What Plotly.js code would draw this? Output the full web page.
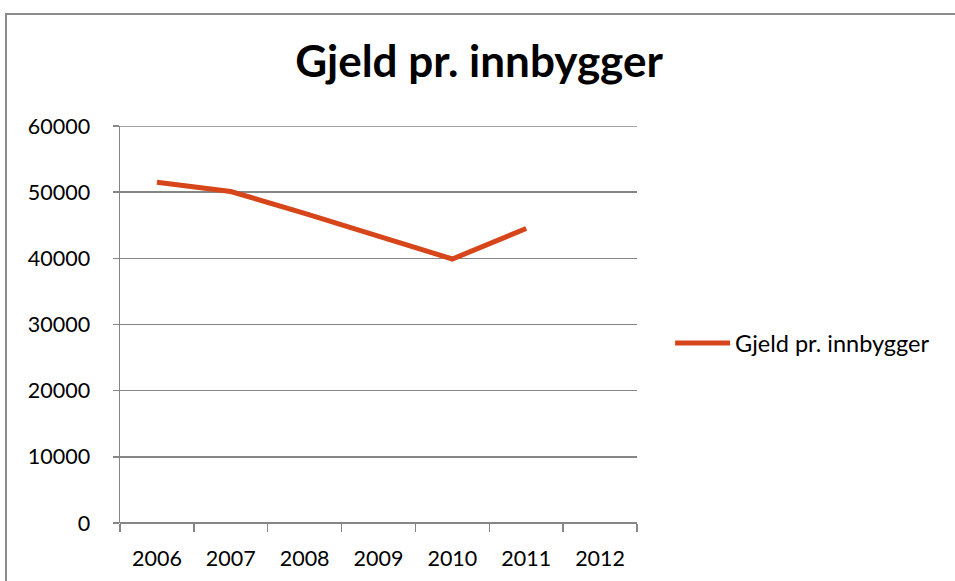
<!DOCTYPE html>
<html>
<head>
<meta charset="utf-8">
<script src="https://cdn.plot.ly/plotly-3.0.1.min.js"></script>
<style>
  html, body { margin: 0; padding: 0; background: #fff; }
  #frame { position: absolute; left: 5px; top: 13px; width: 1000px; height: 700px;
           border-left: 2px solid #8c8c8c; border-top: 2px solid #8c8c8c; box-sizing: border-box; }
  #chart { position: absolute; left: 0; top: 0; width: 955px; height: 581px; }
</style>
</head>
<body>
<div id="frame"></div>
<div id="chart"></div>
<script>
const years = ['2006', '2007', '2008', '2009', '2010', '2011', '2012'];
const gjeld = [51500, 50100, 46800, 43300, 39900, 44500, null];
const seriesName = 'Gjeld pr. innbygger';
const chartTitle = 'Gjeld pr. innbygger';
const yMax = 60000;

const font = 'Lato, "Open Sans", sans-serif';

Plotly.newPlot('chart', [{
  x: years,
  y: gjeld,
  type: 'scatter',
  mode: 'lines',
  name: seriesName,
  line: { color: '#D6461A', width: 5 },
  connectgaps: false
}], {
  width: 955,
  height: 581,
  paper_bgcolor: 'rgba(0,0,0,0)',
  plot_bgcolor: 'rgba(0,0,0,0)',
  margin: { l: 120, r: 318, t: 126, b: 58 },
  font: { family: font, color: '#000', size: 21.5 },
  title: {
    text: '<b>' + chartTitle + '</b>',
    font: { family: font, size: 44, color: '#000' },
    x: 479 / 955, xref: 'container', xanchor: 'center',
    y: 1 - 62 / 581, yref: 'container', yanchor: 'middle'
  },
  showlegend: true,
  legend: {
    x: 1.064, xanchor: 'left',
    y: 0.453, yanchor: 'middle',
    itemwidth: 55,
    font: { family: font, size: 23.5, color: '#000' },
    bgcolor: 'rgba(0,0,0,0)'
  },
  shapes: [{
    type: 'line', xref: 'paper', yref: 'y',
    x0: 0, x1: 1, y0: yMax, y1: yMax,
    line: { color: '#868686', width: 1.5 },
    layer: 'below'
  }],
  xaxis: {
    type: 'category',
    range: [-0.5, 6.5],
    showline: false,
    showgrid: false,
    zeroline: false,
    ticks: 'outside',
    tickson: 'boundaries',
    ticklen: 8,
    tickwidth: 1.5,
    tickcolor: '#868686',
    ticklabelstandoff: 20,
    tickfont: { family: font, size: 21.5, color: '#000' },
    fixedrange: true
  },
  yaxis: {
    range: [0, yMax],
    tick0: 0,
    dtick: 10000,
    tickformat: 'd',
    showline: true,
    linecolor: '#868686',
    linewidth: 1.5,
    showgrid: true,
    gridcolor: '#868686',
    gridwidth: 1.5,
    zeroline: true,
    zerolinecolor: '#868686',
    zerolinewidth: 1.5,
    ticks: 'outside',
    ticklen: 6,
    tickwidth: 1.5,
    tickcolor: '#868686',
    ticklabelstandoff: 18,
    tickfont: { family: font, size: 21.5, color: '#000' },
    fixedrange: true
  }
}, { displayModeBar: false, staticPlot: true });
</script>
</body>
</html>
